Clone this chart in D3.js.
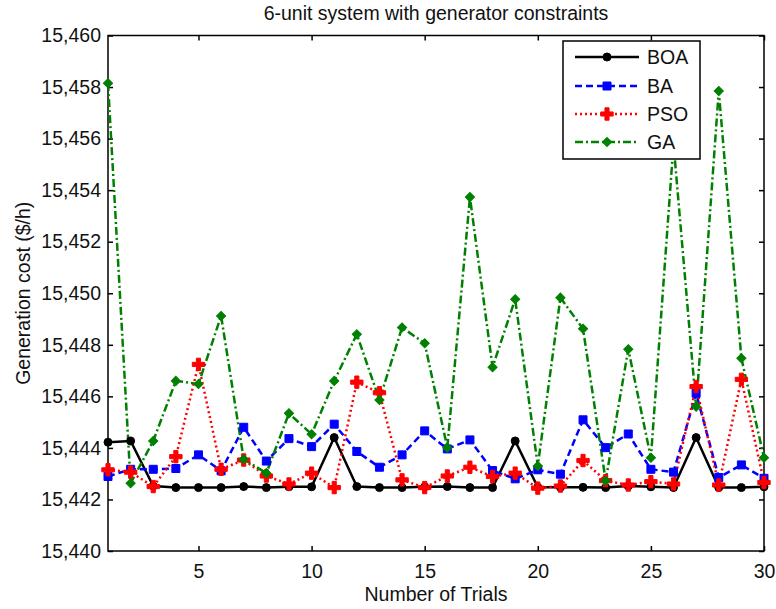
<!DOCTYPE html>
<html>
<head>
<meta charset="utf-8">
<script src="https://cdn.jsdelivr.net/npm/d3@7"></script>
<style>
  body { margin: 0; background: #fff; }
  svg { display: block; font-family: "Liberation Sans", Arial, sans-serif; }
  .axis path, .axis line { stroke: #000; stroke-width: 1.5; }
  .axis text { font-size: 19.5px; fill: #111; }
</style>
</head>
<body>
<svg width="776" height="609"></svg>
<script>
'use strict';

const trials = d3.range(1, 31);
const yTicks = [15440, 15442, 15444, 15446, 15448, 15450, 15452, 15454, 15456, 15458, 15460];
const xTicks = [5, 10, 15, 20, 25, 30];

const boa = [15444.22, 15444.27, 15442.52, 15442.46, 15442.46, 15442.46, 15442.50, 15442.46, 15442.49, 15442.49,
  15444.40, 15442.50, 15442.46, 15442.46, 15442.49, 15442.50, 15442.46, 15442.46, 15444.27, 15442.47,
  15442.47, 15442.47, 15442.46, 15442.52, 15442.49, 15442.46, 15444.40, 15442.46, 15442.46, 15442.49];
const ba = [15442.89, 15443.17, 15443.17, 15443.20, 15443.73, 15443.11, 15444.80, 15443.49, 15444.36, 15444.05,
  15444.92, 15443.86, 15443.25, 15443.73, 15444.66, 15443.96, 15444.31, 15443.12, 15442.80, 15443.15,
  15442.98, 15445.09, 15444.01, 15444.54, 15443.17, 15443.06, 15446.12, 15442.85, 15443.34, 15442.82];
const pso = [15443.15, 15443.06, 15442.50, 15443.66, 15447.24, 15443.17, 15443.53, 15442.91, 15442.60, 15443.02,
  15442.46, 15446.55, 15446.14, 15442.76, 15442.46, 15442.91, 15443.25, 15442.89, 15443.02, 15442.44,
  15442.52, 15443.51, 15442.73, 15442.56, 15442.69, 15442.60, 15446.38, 15442.56, 15446.66, 15442.66];
const ga = [15458.15, 15442.63, 15444.27, 15446.60, 15446.48, 15449.12, 15443.56, 15443.02, 15445.34, 15444.53,
  15446.60, 15448.41, 15445.86, 15448.67, 15448.06, 15444.01, 15453.73, 15447.13, 15449.77, 15443.30,
  15449.83, 15448.62, 15442.73, 15447.83, 15443.62, 15455.80, 15445.60, 15457.85, 15447.48, 15443.62];

// rot: extra rotation for the marker (a 45° square makes the matlab diamond)
const series = [
  { name: 'BOA', values: boa, color: '#000000', dash: null, symbol: d3.symbolCircle, size: 50, rot: 0 },
  { name: 'BA', values: ba, color: '#0000ff', dash: '7,4', symbol: d3.symbolSquare, size: 64, rot: 0 },
  { name: 'PSO', values: pso, color: '#ff0000', dash: '2,3', symbol: d3.symbolCross, size: 85, rot: 0 },
  { name: 'GA', values: ga, color: '#008000', dash: '8,3,2,3', symbol: d3.symbolSquare, size: 42, rot: 45 }
];

const W = 776, H = 609;
const margin = { top: 35.5, right: 12, bottom: 58, left: 108 };
const w = W - margin.left - margin.right;
const h = H - margin.top - margin.bottom;

const svg = d3.select('svg');

const x = d3.scaleLinear().domain([1, 30]).range([0, w]);
const y = d3.scaleLinear().domain([15440, 15460]).range([h, 0]);

const g = svg.append('g').attr('transform', `translate(${margin.left},${margin.top})`);

// clip so lines stay inside the box
g.append('defs').append('clipPath').attr('id', 'plot-clip')
  .append('rect').attr('width', w).attr('height', h);

// axes: ticks point inward on all four sides (matlab box style)
const fmt = d3.format(',');
g.append('g').attr('class', 'axis')
  .attr('transform', `translate(0,${h})`)
  .call(d3.axisBottom(x).tickValues(xTicks).tickSizeInner(-5).tickSizeOuter(0).tickPadding(13))
  .call(a => a.select('.domain').remove());
g.append('g').attr('class', 'axis')
  .call(d3.axisTop(x).tickValues(xTicks).tickSizeInner(-5).tickSizeOuter(0).tickFormat(''))
  .call(a => a.select('.domain').remove());
g.append('g').attr('class', 'axis')
  .call(d3.axisLeft(y).tickValues(yTicks).tickSizeInner(-5).tickSizeOuter(0).tickPadding(7).tickFormat(fmt))
  .call(a => a.select('.domain').remove());
g.append('g').attr('class', 'axis')
  .attr('transform', `translate(${w},0)`)
  .call(d3.axisRight(y).tickValues(yTicks).tickSizeInner(-5).tickSizeOuter(0).tickFormat(''))
  .call(a => a.select('.domain').remove());

g.append('rect')
  .attr('width', w).attr('height', h)
  .attr('fill', 'none').attr('stroke', '#000').attr('stroke-width', 1.5);

const line = d3.line()
  .x((d, i) => x(trials[i]))
  .y(d => y(d));

const plot = g.append('g').attr('clip-path', 'url(#plot-clip)');

series.forEach(s => {
  plot.append('path')
    .attr('d', line(s.values))
    .attr('fill', 'none')
    .attr('stroke', s.color)
    .attr('stroke-width', 2.5)
    .attr('stroke-dasharray', s.dash);
});

series.forEach(s => {
  const sym = d3.symbol().type(s.symbol).size(s.size);
  g.append('g').selectAll('path')
    .data(s.values).enter().append('path')
    .attr('transform', (d, i) => `translate(${x(trials[i])},${y(d)}) rotate(${s.rot})`)
    .attr('d', sym)
    .attr('fill', s.color)
    .attr('stroke', s.color)
    .attr('stroke-width', 1);
});

/** Legend box, top right, drawn over the lines */
const legend = g.append('g').attr('transform', `translate(${563 - margin.left},${41 - margin.top})`);
legend.append('rect')
  .attr('width', 137).attr('height', 118)
  .attr('fill', '#fff').attr('stroke', '#000').attr('stroke-width', 1.5);

const rowY = [16, 45, 73, 101];
series.forEach((s, i) => {
  const row = legend.append('g').attr('transform', `translate(0,${rowY[i]})`);
  row.append('line')
    .attr('x1', 12).attr('x2', 76)
    .attr('stroke', s.color).attr('stroke-width', 2.5)
    .attr('stroke-dasharray', s.dash);
  row.append('path')
    .attr('transform', `translate(44,0) rotate(${s.rot})`)
    .attr('d', d3.symbol().type(s.symbol).size(s.size))
    .attr('fill', s.color).attr('stroke', s.color);
  row.append('text')
    .attr('x', 84).attr('dy', '0.36em')
    .style('font-size', '19.5px').style('fill', '#111')
    .text(s.name);
});

/** Titles */
svg.append('text')
  .attr('x', margin.left + w / 2).attr('y', 20)
  .attr('text-anchor', 'middle')
  .style('font-size', '19.5px').style('fill', '#111')
  .text('6-unit system with generator constraints');

svg.append('text')
  .attr('x', margin.left + w / 2).attr('y', 601)
  .attr('text-anchor', 'middle')
  .style('font-size', '19.5px').style('fill', '#111')
  .text('Number of Trials');

svg.append('text')
  .attr('transform', `translate(23,${margin.top + h / 2}) rotate(-90)`)
  .attr('text-anchor', 'middle')
  .attr('dy', '0.35em')
  .style('font-size', '19.5px').style('fill', '#111')
  .text('Generation cost ($/h)');
</script>
</body>
</html>
